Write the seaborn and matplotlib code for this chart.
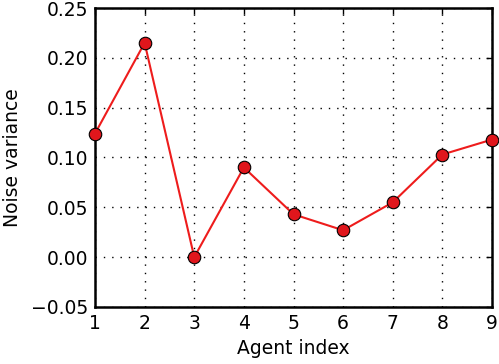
import matplotlib
matplotlib.use("Agg")
import matplotlib.pyplot as plt
import seaborn as sns
import pandas as pd

agents = [1, 2, 3, 4, 5, 6, 7, 8, 9]
noise_variance = [0.124, 0.215, 0.0, 0.090, 0.043, 0.027, 0.055, 0.103, 0.118]

df = pd.DataFrame({"Agent index": agents, "Noise variance": noise_variance})

sns.set_style("white")
plt.rcParams['font.family'] = ['DejaVu Sans']
plt.rcParams['text.color'] = 'black'
plt.rcParams['axes.labelcolor'] = 'black'
plt.rcParams['xtick.color'] = 'black'
plt.rcParams['ytick.color'] = 'black'
fig = plt.figure(figsize=(4.99, 3.64), dpi=100)
ax = fig.add_axes([95/499, 1-307/364, (492-95)/499, (307-8)/364])

sns.lineplot(data=df, x="Agent index", y="Noise variance", ax=ax,
             color="#ee1c1c", linewidth=1.5, marker="o", markersize=9,
             markerfacecolor="#e0161c", markeredgecolor="black", markeredgewidth=0.8,
             zorder=3, clip_on=False)

ax.set_xlim(1, 9)
ax.set_ylim(-0.05, 0.25)
ax.set_xticks(agents)
ax.set_yticks([-0.05, 0.0, 0.05, 0.10, 0.15, 0.20, 0.25])
ax.set_yticklabels(["\u22120.05", "0.00", "0.05", "0.10", "0.15", "0.20", "0.25"])
ax.grid(True, linestyle=(0, (1, 5)), color="black", linewidth=1)
ax.set_axisbelow(True)
for s in ax.spines.values():
    s.set_linewidth(1.8)
    s.set_color("black")
ax.tick_params(direction="in", length=4, width=1, labelsize=13.5, pad=5, top=True, right=True)
ax.set_xlabel("Agent index", fontsize=13.5, labelpad=4)
ax.set_ylabel("Noise variance", fontsize=13.5, labelpad=6)

fig.savefig("out.png", dpi=100)
